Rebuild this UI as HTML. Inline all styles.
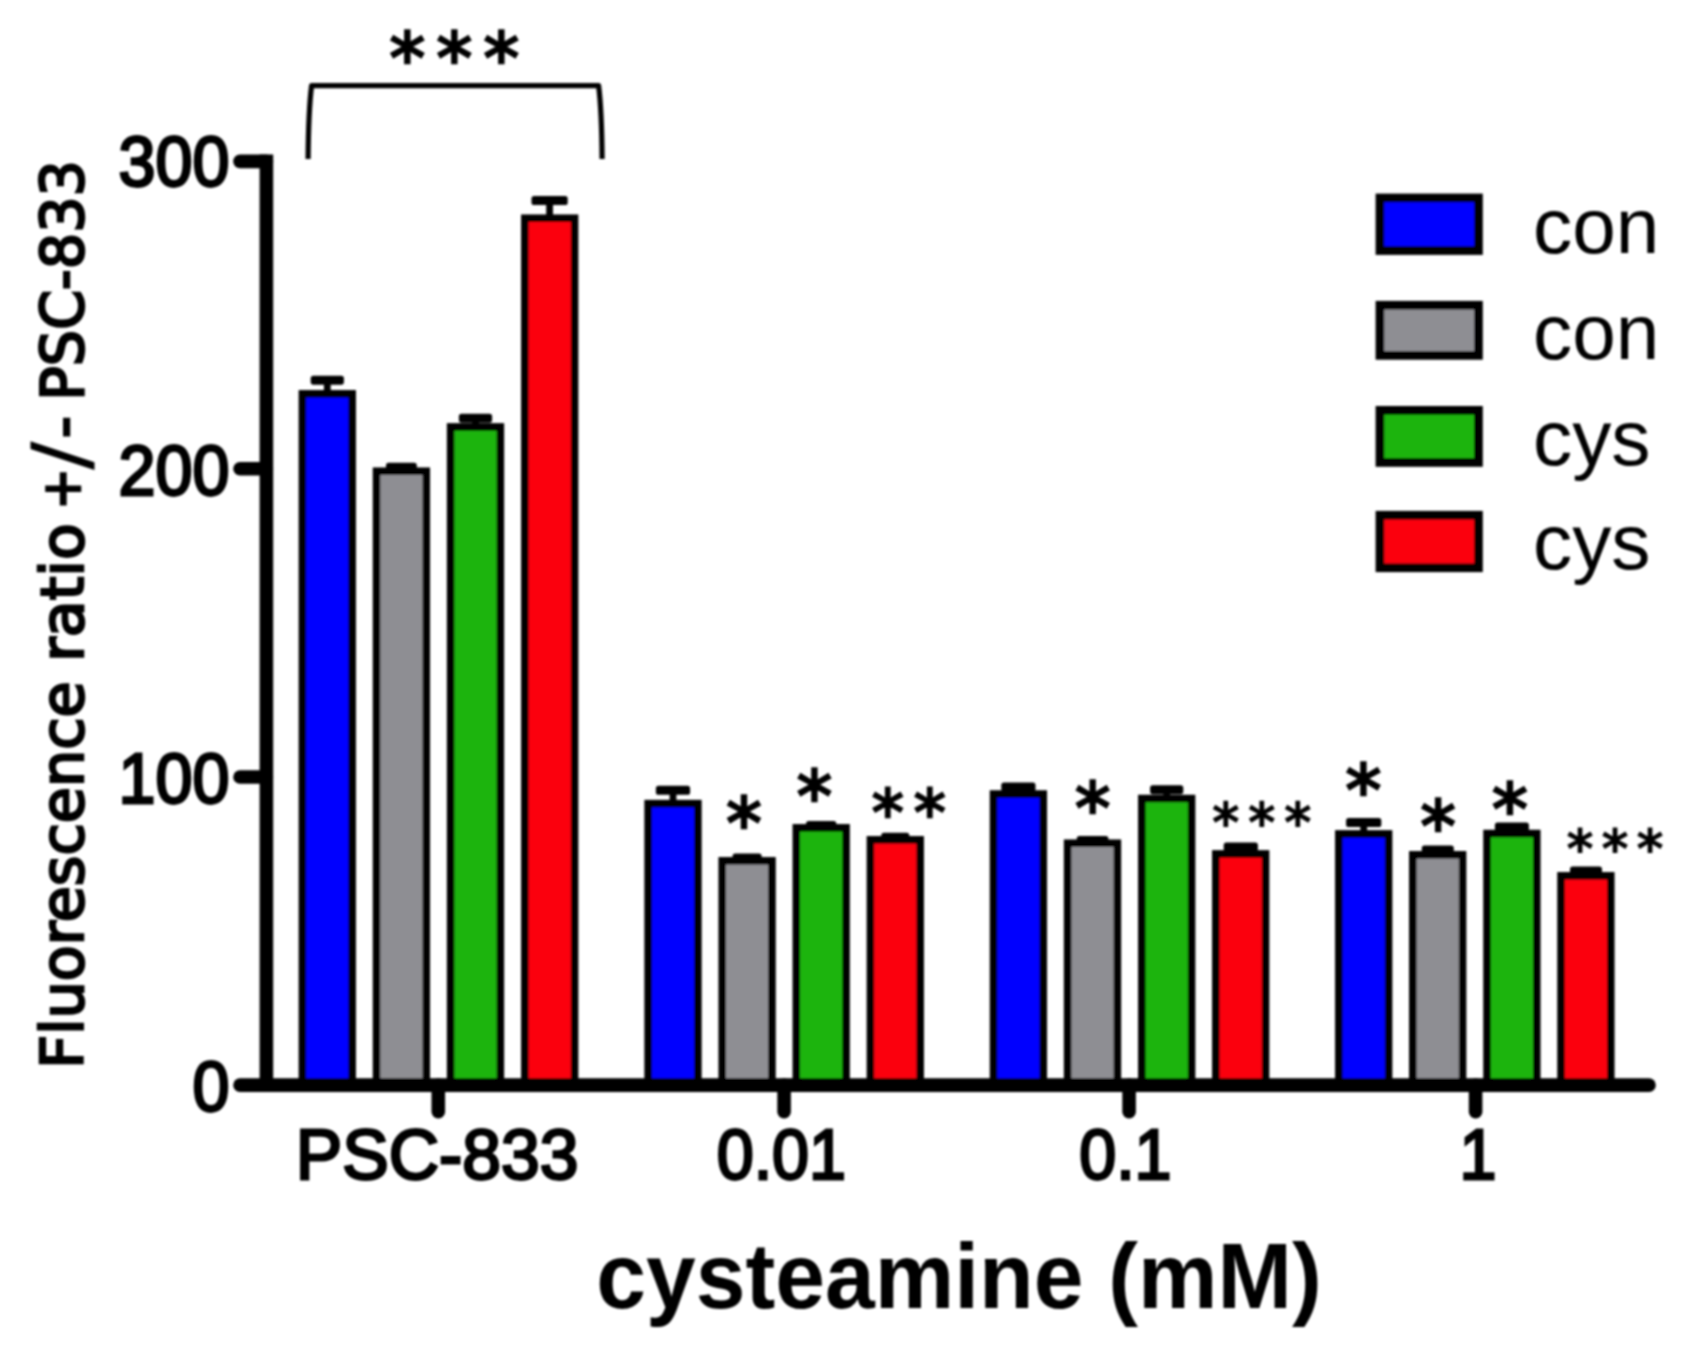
<!DOCTYPE html>
<html lang="en">
<head>
<meta charset="utf-8">
<title>Fluorescence ratio +/- PSC-833 vs cysteamine (mM)</title>
<style>
html,body{margin:0;padding:0;background:#fff;}
body{width:1692px;height:1349px;overflow:hidden;}
svg{display:block;}
text{fill:#000;}
.tick{font-family:"Liberation Sans",Arial,Helvetica,sans-serif;stroke:#000;stroke-width:2.8px;stroke-linejoin:miter;}
.title{font-family:"Liberation Sans",Arial,Helvetica,sans-serif;font-weight:bold;}
.ylab{font-family:"DejaVu Sans","Liberation Sans",sans-serif;stroke:#000;stroke-width:2.5px;}
.leg{font-family:"Liberation Sans",Arial,Helvetica,sans-serif;}
.st{font-family:"DejaVu Sans","Liberation Sans",sans-serif;stroke:#000;stroke-linejoin:miter;}
</style>
</head>
<body>
<svg width="1692" height="1349" viewBox="0 0 1692 1349">
<defs><filter id="soft" filterUnits="userSpaceOnUse" x="0" y="0" width="1692" height="1349"><feGaussianBlur stdDeviation="0.9"/></filter></defs>
<rect width="1692" height="1349" fill="#fff"/>
<g id="chart" filter="url(#soft)">
<g id="bars" stroke="#000" fill="none">
<path d="M327.3 380.2V394.0" stroke-width="6.8"/>
<rect x="310.7" y="375.7" width="33.2" height="9.0" rx="2.6" fill="#000" stroke="none"/>
<rect x="302.4" y="393.8" width="49.8" height="691.3" fill="#0000ff" stroke-width="7.5"/>
<path d="M401.4 467.3V471.5" stroke-width="6.8"/>
<rect x="386.0" y="462.8" width="30.8" height="9.0" rx="2.6" fill="#000" stroke="none"/>
<rect x="376.5" y="471.2" width="49.8" height="613.8" fill="#8e8e93" stroke-width="7.5"/>
<path d="M475.5 418.2V427.2" stroke-width="6.8"/>
<rect x="458.9" y="413.7" width="33.2" height="9.0" rx="2.6" fill="#000" stroke="none"/>
<rect x="450.6" y="426.9" width="49.8" height="658.1" fill="#1db40e" stroke-width="7.5"/>
<path d="M549.6 200.6V218.4" stroke-width="6.8"/>
<rect x="531.5" y="196.1" width="36.2" height="9.0" rx="2.6" fill="#000" stroke="none"/>
<rect x="524.8" y="218.2" width="49.8" height="866.9" fill="#fb0410" stroke-width="7.5"/>
<path d="M673.0 790.3V803.9" stroke-width="6.8"/>
<rect x="655.9" y="785.8" width="34.2" height="9.0" rx="2.6" fill="#000" stroke="none"/>
<rect x="648.1" y="803.6" width="49.8" height="281.4" fill="#0000ff" stroke-width="7.5"/>
<path d="M747.1 858.0V861.0" stroke-width="6.8"/>
<rect x="732.6" y="853.5" width="29.0" height="9.0" rx="2.6" fill="#000" stroke="none"/>
<rect x="722.2" y="860.8" width="49.8" height="224.3" fill="#8e8e93" stroke-width="7.5"/>
<path d="M821.2 825.5V828.0" stroke-width="6.8"/>
<rect x="806.1" y="821.0" width="30.2" height="9.0" rx="2.6" fill="#000" stroke="none"/>
<rect x="796.3" y="827.8" width="49.8" height="257.3" fill="#1db40e" stroke-width="7.5"/>
<path d="M895.3 837.3V840.0" stroke-width="6.8"/>
<rect x="881.3" y="832.8" width="28.0" height="9.0" rx="2.6" fill="#000" stroke="none"/>
<rect x="870.4" y="839.8" width="49.8" height="245.3" fill="#fb0410" stroke-width="7.5"/>
<path d="M1018.4 787.1V794.2" stroke-width="6.8"/>
<rect x="1001.3" y="782.6" width="34.2" height="9.0" rx="2.6" fill="#000" stroke="none"/>
<rect x="993.5" y="794.0" width="49.8" height="291.1" fill="#0000ff" stroke-width="7.5"/>
<path d="M1092.5 840.5V843.5" stroke-width="6.8"/>
<rect x="1076.8" y="836.0" width="31.6" height="9.0" rx="2.6" fill="#000" stroke="none"/>
<rect x="1067.6" y="843.2" width="49.8" height="241.8" fill="#8e8e93" stroke-width="7.5"/>
<path d="M1166.7 789.7V798.7" stroke-width="6.8"/>
<rect x="1150.1" y="785.2" width="33.2" height="9.0" rx="2.6" fill="#000" stroke="none"/>
<rect x="1141.8" y="798.5" width="49.8" height="286.6" fill="#1db40e" stroke-width="7.5"/>
<path d="M1240.8 847.0V854.1" stroke-width="6.8"/>
<rect x="1223.7" y="842.5" width="34.2" height="9.0" rx="2.6" fill="#000" stroke="none"/>
<rect x="1215.8" y="853.9" width="49.8" height="231.2" fill="#fb0410" stroke-width="7.5"/>
<path d="M1363.7 822.5V834.1" stroke-width="6.8"/>
<rect x="1346.1" y="818.0" width="35.2" height="9.0" rx="2.6" fill="#000" stroke="none"/>
<rect x="1338.8" y="833.9" width="49.8" height="251.2" fill="#0000ff" stroke-width="7.5"/>
<path d="M1437.8 850.0V855.0" stroke-width="6.8"/>
<rect x="1421.8" y="845.5" width="32.0" height="9.0" rx="2.6" fill="#000" stroke="none"/>
<rect x="1412.8" y="854.8" width="49.8" height="230.3" fill="#8e8e93" stroke-width="7.5"/>
<path d="M1511.9 826.9V833.7" stroke-width="6.8"/>
<rect x="1494.9" y="822.4" width="34.0" height="9.0" rx="2.6" fill="#000" stroke="none"/>
<rect x="1487.0" y="833.5" width="49.8" height="251.6" fill="#1db40e" stroke-width="7.5"/>
<path d="M1586.0 870.9V876.0" stroke-width="6.8"/>
<rect x="1570.0" y="866.4" width="32.0" height="9.0" rx="2.6" fill="#000" stroke="none"/>
<rect x="1561.0" y="875.8" width="49.8" height="209.3" fill="#fb0410" stroke-width="7.5"/>
</g>
<g id="axes" stroke="#000" stroke-width="13.6" stroke-linecap="round" fill="none">
<path d="M266.4 154.6V1085.1" stroke-linecap="butt"/>
<path d="M240 1085.1H1649"/>
<path d="M240 161.4H266.4"/>
<path d="M240 468.8H266.4"/>
<path d="M240 777H266.4"/>
<path d="M438.3 1085.1V1111.7"/>
<path d="M784.1 1085.1V1111.7"/>
<path d="M1129.1 1085.1V1111.7"/>
<path d="M1475.6 1085.1V1111.7"/>
</g>
<path id="bracket" d="M308.1 159 C308.3 132 309 106 311.6 85.6 L598.6 85.6 C601.2 106 601.9 132 602.1 159" fill="none" stroke="#000" stroke-width="5.2" stroke-linejoin="round"/>
<g id="legend-swatches" stroke="#000" stroke-width="8.6">
<rect x="1379.9" y="197.9" width="98.6" height="52.7" fill="#0000ff"/>
<rect x="1379.9" y="305.2" width="98.6" height="50.2" fill="#8e8e93"/>
<rect x="1379.9" y="410.3" width="98.6" height="52.2" fill="#1db40e"/>
<rect x="1379.9" y="515.2" width="98.6" height="52.6" fill="#fb0410"/>
</g>
<g id="labels">
<text class="tick" transform="translate(118.45 186.40) scale(0.9476 1)" font-size="70.20">300</text>
<text class="tick" transform="translate(118.55 494.85) scale(0.9476 1)" font-size="70.20">200</text>
<text class="tick" transform="translate(118.55 802.85) scale(0.9476 1)" font-size="70.20">100</text>
<text class="tick" transform="translate(192.45 1110.85) scale(0.9476 1)" font-size="70.20">0</text>
<text class="tick" transform="translate(295.75 1178.90) scale(0.9925 1)" font-size="70.20">PSC-833</text>
<text class="tick" transform="translate(716.65 1178.90) scale(0.9476 1)" font-size="70.20">0.01</text>
<text class="tick" transform="translate(1079.15 1178.90) scale(0.9476 1)" font-size="70.20">0.1</text>
<text class="tick" transform="translate(1459.60 1178.90) scale(0.9476 1)" font-size="70.20">1</text>
<text class="title" transform="translate(596.30 1307.80) scale(0.9616 1)" font-size="93.00">cysteamine (mM)</text>
<text class="leg" transform="translate(1532.95 252.78) scale(1.0177 1)" font-size="77.00">con</text>
<text class="leg" transform="translate(1532.95 359.07) scale(1.0177 1)" font-size="77.00">con</text>
<text class="leg" transform="translate(1532.95 464.52) scale(1.0177 1)" font-size="77.00">cys</text>
<text class="leg" transform="translate(1532.95 569.12) scale(1.0177 1)" font-size="77.00">cys</text>
<text class="ylab" transform="translate(82.55 1068.70) rotate(-90) scale(0.9903 1)" font-size="59.41">Fluorescence</text>
<text class="ylab" transform="translate(82.55 662.05) rotate(-90) scale(1.0141 1)" font-size="59.41">ratio</text>
<text class="ylab" transform="translate(82.55 400.70) rotate(-90) scale(0.9634 1)" font-size="59.41">PSC-833</text>
<text class="ylab" transform="translate(80.05 509.40) rotate(-90) scale(0.9403 1)" font-size="52.55">+</text>
<text class="ylab" transform="translate(87.30 469.25) rotate(-90) scale(1.0481 1)" font-size="77.12" style="stroke-width:1px">/</text>
<text class="ylab" transform="translate(82.50 438.35) rotate(-90) scale(1.0362 1)" font-size="59.41">-</text>
</g>
<g id="stars">
<text x="459.9" y="82.8" font-size="71.4" text-anchor="middle" letter-spacing="11.3" stroke-width="2.53" class="st">***</text>
<text x="744.1" y="847.8" font-size="70.9" text-anchor="middle" stroke-width="2.51" class="st">*</text>
<text x="814.5" y="820.8" font-size="70.7" text-anchor="middle" stroke-width="2.51" class="st">*</text>
<text x="913.7" y="834.6" font-size="64.2" text-anchor="middle" letter-spacing="9.9" stroke-width="2.28" class="st">**</text>
<text x="1092.6" y="832.9" font-size="70.7" text-anchor="middle" stroke-width="2.51" class="st">*</text>
<text x="1266.5" y="840.6" font-size="53.1" text-anchor="middle" letter-spacing="9.5" stroke-width="1.88" class="st">***</text>
<text x="1363.3" y="815.3" font-size="71.6" text-anchor="middle" stroke-width="2.53" class="st">*</text>
<text x="1438.1" y="850.8" font-size="70.5" text-anchor="middle" stroke-width="2.50" class="st">*</text>
<text x="1509.8" y="833.5" font-size="71.6" text-anchor="middle" stroke-width="2.53" class="st">*</text>
<text x="1619.4" y="867.2" font-size="52.2" text-anchor="middle" letter-spacing="8.9" stroke-width="1.85" class="st">***</text>
</g>
</g>
</svg>
</body>
</html>
